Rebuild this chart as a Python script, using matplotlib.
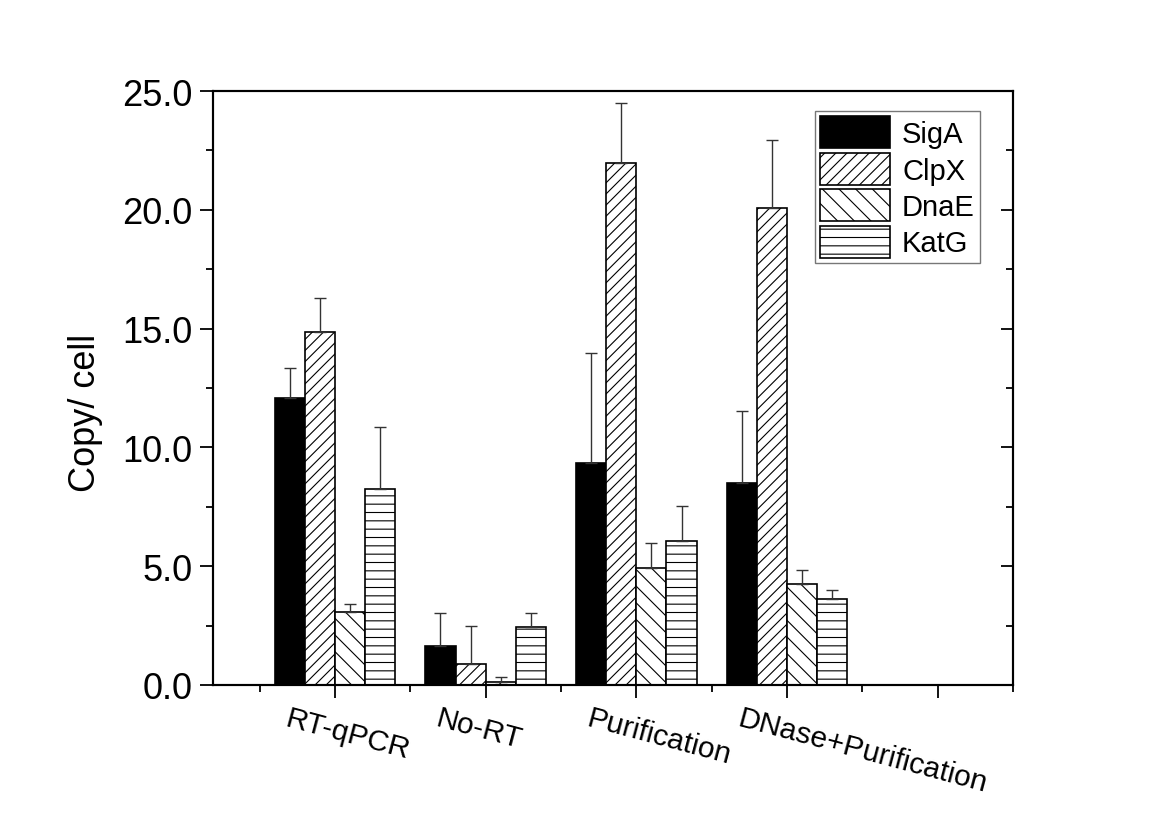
import numpy as np
import matplotlib
matplotlib.use('Agg')
import matplotlib.pyplot as plt
from matplotlib.ticker import MultipleLocator, FixedLocator, NullFormatter
from matplotlib.transforms import ScaledTranslation

plt.rcParams['font.family'] = ['Liberation Sans', 'DejaVu Sans']
plt.rcParams['hatch.color'] = '#222222'
plt.rcParams['hatch.linewidth'] = 0.8

# copies per cell (upper error only)
methods = ['RT-qPCR', 'No-RT', 'Purification', 'DNase+Purification']
genes = ['SigA', 'ClpX', 'DnaE', 'KatG']

siga = [12.09, 1.65, 9.36, 8.51]
clpx = [14.86, 0.90, 21.96, 20.09]
dnae = [3.07, 0.11, 4.92, 4.26]
katg = [8.24, 2.44, 6.07, 3.62]

siga_err = [1.24, 1.37, 4.63, 3.04]
clpx_err = [1.44, 1.60, 2.55, 2.85]
dnae_err = [0.33, 0.21, 1.07, 0.59]
katg_err = [2.62, 0.60, 1.46, 0.38]

values = [siga, clpx, dnae, katg]
errors = [siga_err, clpx_err, dnae_err, katg_err]
hatches = ['', '///', '\\\\', '--']
faces = ['black', 'white', 'white', 'white']

fig = plt.figure(figsize=(11.66, 8.2), dpi=100)
ax = fig.add_axes([213/1166, 134/820, 800/1166, 594/820])

x = np.arange(1, len(methods) + 1)
w = 0.2
offsets = [-0.3, -0.1, 0.1, 0.3]
for vals, errs, h, fc, off, name in zip(values, errors, hatches, faces, offsets, genes):
    ax.bar(x + off, vals, width=w, color=fc, edgecolor='black', linewidth=1.2,
           hatch=h, label=name, zorder=2)
    ax.errorbar(x + off, vals, yerr=[np.zeros(len(errs)), errs], fmt='none',
                ecolor='#333333', elinewidth=1.0, capsize=4.3, capthick=1.0, zorder=3)

ax.set_xlim(0.19, 5.5)
ax.set_ylim(0, 25)

ax.yaxis.set_major_locator(MultipleLocator(5))
ax.yaxis.set_minor_locator(MultipleLocator(2.5))
ax.set_yticklabels(['%.1f' % v for v in ax.get_yticks()])
ax.tick_params(axis='y', which='major', direction='out', length=9.5, width=1.3,
               labelsize=26, right=False, pad=5)
ax.tick_params(axis='y', which='minor', direction='out', length=5, width=1.3, right=False)

ax.xaxis.set_major_locator(FixedLocator([1, 2, 3, 4, 5]))
ax.xaxis.set_minor_locator(FixedLocator([0.5, 1.5, 2.5, 3.5, 4.5, 5.5]))
ax.xaxis.set_major_formatter(NullFormatter())
ax.tick_params(axis='x', which='major', direction='out', length=9.5, width=1.3, top=False)
ax.tick_params(axis='x', which='minor', direction='out', length=5, width=1.3, top=False)

# right axis: inward ticks, no labels
ax2 = ax.twinx()
ax2.set_ylim(ax.get_ylim())
ax2.yaxis.set_major_locator(MultipleLocator(5))
ax2.yaxis.set_minor_locator(MultipleLocator(2.5))
ax2.yaxis.set_major_formatter(NullFormatter())
ax2.tick_params(axis='y', which='major', direction='in', length=9, width=1.3)
ax2.tick_params(axis='y', which='minor', direction='in', length=5, width=1.3)

for a in (ax, ax2):
    for s in a.spines.values():
        s.set_linewidth(1.5)

# rotated category labels
off = ScaledTranslation(-0.45, -0.19, fig.dpi_scale_trans)
for xi, name in zip(x, methods):
    ax.text(xi, 0, name, transform=ax.get_xaxis_transform() + off, rotation=-15,
            rotation_mode='anchor', ha='left', va='top', fontsize=21.5)

ax.set_ylabel('Copy/ cell', fontsize=26)
ax.yaxis.set_label_coords(-0.137, 0.46)

handles, labels = ax.get_legend_handles_labels()
leg = ax2.legend(handles, labels, loc='upper right', bbox_to_anchor=(0.959, 0.966),
                 borderaxespad=0, fontsize=21, handlelength=2.4, handleheight=1.3,
                 labelspacing=0.16, handletextpad=0.4, borderpad=0.18,
                 fancybox=False, frameon=True)
leg.get_frame().set_edgecolor('#555555')
leg.get_frame().set_linewidth(1.0)

fig.savefig('out.png', dpi=100, facecolor='white')
